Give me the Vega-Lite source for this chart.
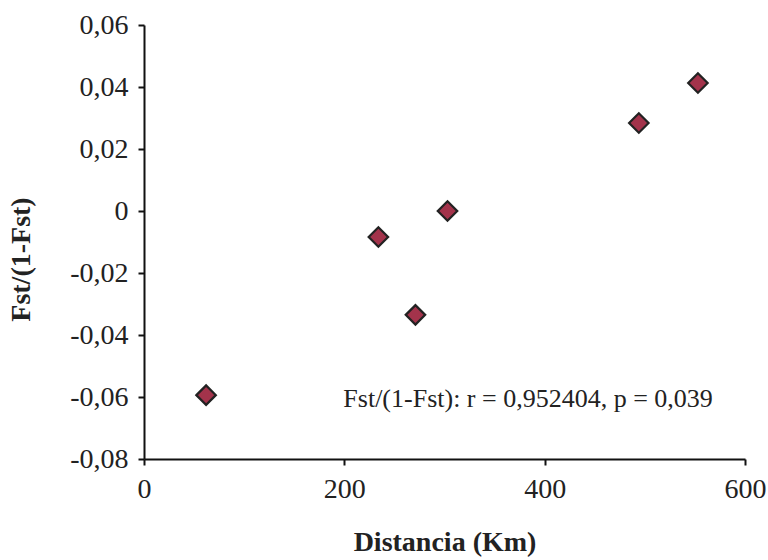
{
  "$schema": "https://vega.github.io/schema/vega-lite/v6.json",
  "width": 601,
  "height": 434,
  "autosize": {"type": "none"},
  "padding": {"left": 144, "top": 25, "right": 23, "bottom": 101},
  "background": "white",
  "config": {
    "view": {"stroke": null},
    "font": "Liberation Serif",
    "axis": {
      "grid": false,
      "domainColor": "#111",
      "domainWidth": 2,
      "tickColor": "#111",
      "tickWidth": 2,
      "tickSize": 6,
      "labelFont": "Liberation Serif",
      "labelFontSize": 28,
      "labelColor": "#222",
      "titleFont": "Liberation Serif",
      "titleFontSize": 28,
      "titleFontWeight": "bold",
      "titleColor": "#222"
    }
  },
  "layer": [
    {
      "data": {
        "values": [
          {"distancia": 62, "fst": -0.0594},
          {"distancia": 234, "fst": -0.0084},
          {"distancia": 271, "fst": -0.0335},
          {"distancia": 303, "fst": 0.0},
          {"distancia": 494, "fst": 0.0284},
          {"distancia": 553, "fst": 0.0413}
        ]
      },
      "mark": {"type": "point", "shape": "diamond", "filled": true, "size": 380, "fill": "#a3334b", "stroke": "#222", "strokeWidth": 2.2, "opacity": 1},
      "encoding": {
        "x": {
          "field": "distancia", "type": "quantitative",
          "scale": {"domain": [0, 600], "nice": false, "zero": false},
          "axis": {"values": [0, 200, 400, 600], "title": "Distancia (Km)", "labelPadding": 10, "titlePadding": 25, "labelFlush": false}
        },
        "y": {
          "field": "fst", "type": "quantitative",
          "scale": {"domain": [-0.08, 0.06], "nice": false, "zero": false},
          "axis": {
            "values": [-0.08, -0.06, -0.04, -0.02, 0, 0.02, 0.04, 0.06],
            "labelExpr": "abs(datum.value) < 1e-9 ? '0' : (datum.value < 0 ? '-' : '') + replace(format(abs(datum.value), '.2f'), '.', ',')",
            "title": "Fst/(1-Fst)",
            "labelPadding": 10,
            "titlePadding": 34,
            "titleY": 234,
            "labelFlush": false
          }
        }
      }
    },
    {
      "data": {"values": [{"distancia": 199, "fst": -0.0632, "label": "Fst/(1-Fst): r = 0,952404, p = 0,039"}]},
      "mark": {"type": "text", "align": "left", "baseline": "alphabetic", "font": "Liberation Serif", "fontSize": 26, "color": "#222"},
      "encoding": {
        "x": {"field": "distancia", "type": "quantitative"},
        "y": {"field": "fst", "type": "quantitative"},
        "text": {"field": "label"}
      }
    }
  ]
}
